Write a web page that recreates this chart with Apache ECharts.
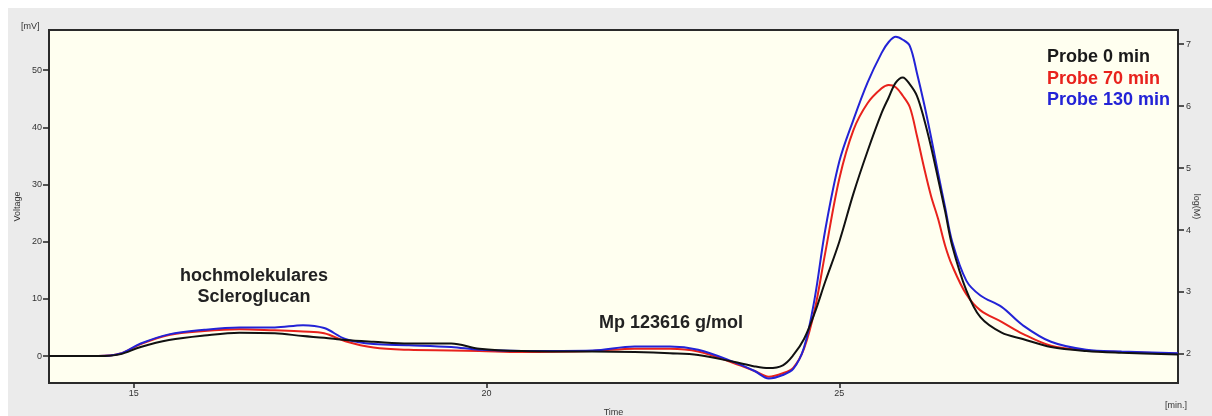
<!DOCTYPE html>
<html>
<head>
<meta charset="utf-8">
<script src="https://cdn.jsdelivr.net/npm/echarts@6/dist/echarts.min.js"></script>
<style>
  html, body { margin: 0; padding: 0; background: #fff; }
  #chart { width: 1212px; height: 416px; }
</style>
</head>
<body>
<div id="chart"></div>
<script>
// retention time [min]
const times = [13.8, 14.5, 14.8, 15.1, 15.5, 16.0, 16.5, 17.0, 17.4, 17.7, 18.0, 18.4, 18.9, 19.5, 19.9,
  20.5, 21.5, 22.1, 22.6, 23.0, 23.5, 23.8, 24.0, 24.2, 24.35, 24.5, 24.65, 24.8, 25.0, 25.2, 25.4,
  25.6, 25.7, 25.8, 25.9, 26.0, 26.1, 26.2, 26.3, 26.4, 26.5, 26.6, 26.8, 27.0, 27.3, 27.6, 28.0,
  28.5, 29.0, 29.8]

// voltage [mV] per sample
const probe0 = [0, 0, 0.3, 1.6, 2.8, 3.6, 4.1, 4.0, 3.5, 3.2, 2.8, 2.5, 2.2, 2.2, 1.3,
  0.9, 0.8, 0.7, 0.5, 0.2, -1.0, -1.8, -2.1, -1.6, 0.2, 3.0, 7.5, 13, 20, 28.4, 35.8,
  42.5, 45.2, 47.8, 48.7, 47.5, 45.5, 41.5, 36.6, 31, 25.3, 19.3, 11.5, 6.8, 4.1, 3.0, 1.6,
  0.9, 0.6, 0.3]
const probe70 = [0, 0, 0.4, 2.1, 3.7, 4.4, 4.7, 4.5, 4.3, 4.0, 2.6, 1.5, 1.1, 1.0, 0.9,
  0.7, 0.9, 1.3, 1.3, 0.8, -1.2, -2.6, -3.6, -3.0, -2.0, 1.3, 8, 18, 31, 39.5, 44.2,
  46.8, 47.4, 47.0, 45.5, 43.5, 38.5, 33, 28, 24, 19.3, 15.8, 10.8, 8.0, 6.0, 3.9, 1.8,
  1.0, 0.7, 0.4]
const probe130 = [0, 0, 0.4, 2.2, 3.8, 4.6, 5.0, 5.0, 5.4, 4.9, 3.0, 2.1, 1.9, 1.6, 1.1,
  0.9, 1.0, 1.7, 1.7, 1.1, -1.0, -2.6, -3.9, -3.3, -2.2, 1.5, 10, 22, 34, 41.3, 47.8,
  53, 54.9, 55.8, 55.3, 54.2, 49.5, 44.2, 38.3, 32, 26, 20, 13.2, 10.6, 8.6, 5.4, 2.5,
  1.1, 0.8, 0.5]

const timeTicks = [15, 20, 25]
const voltTicks = [0, 10, 20, 30, 40, 50]
const logTicks = [2, 3, 4, 5, 6, 7]

const pairs = (ys) => times.map((t, i) => [t, ys[i]])

const chart = echarts.init(document.getElementById('chart'))

const smallLabel = { fontFamily: 'Liberation Sans', fontSize: 9, color: '#333' }
const bigText = { fontFamily: 'Liberation Sans', fontSize: 18, fontWeight: 'bold' }
const tickStyle = { color: '#222', width: 1.5 }

chart.setOption({
  animation: false,
  backgroundColor: '#fff',
  grid: {
    left: 49, top: 30, right: 34, bottom: 33,
    outerBoundsMode: 'none',
    containLabel: false,
    show: true, backgroundColor: '#fffff0', borderColor: '#2a2a2a', borderWidth: 2
  },
  xAxis: {
    type: 'value',
    min: 13.8,
    max: 29.8,
    name: 'Time',
    nameLocation: 'middle',
    nameGap: 25,
    nameMoveOverlap: false,
    nameTextStyle: smallLabel,
    axisLine: { show: false, onZero: false },
    axisTick: { show: true, customValues: timeTicks, length: 5, lineStyle: tickStyle },
    axisLabel: { customValues: timeTicks, margin: 6, ...smallLabel },
    splitLine: { show: false }
  },
  yAxis: [{
    type: 'value',
    min: -4.7,
    max: 57,
    name: 'Voltage',
    nameLocation: 'middle',
    nameGap: 27,
    nameMoveOverlap: false,
    nameTextStyle: smallLabel,
    axisLine: { show: false, onZero: false },
    axisTick: { show: true, customValues: voltTicks, length: 6, lineStyle: tickStyle },
    axisLabel: { customValues: voltTicks, margin: 7, ...smallLabel },
    splitLine: { show: false }
  }, {
    type: 'value',
    position: 'right',
    min: 1.53,
    max: 7.23,
    name: 'log(M)',
    nameLocation: 'middle',
    nameRotate: -90,
    nameGap: 14,
    nameMoveOverlap: false,
    nameTextStyle: smallLabel,
    axisLine: { show: false, onZero: false },
    axisTick: { show: true, customValues: logTicks, length: 6, lineStyle: tickStyle },
    axisLabel: { customValues: logTicks, margin: 8, ...smallLabel },
    splitLine: { show: false }
  }],
  graphic: [
    { type: 'rect', z: -10, silent: true, shape: { x: 8, y: 8, width: 1204, height: 408 }, style: { fill: '#ebebeb' } },
    { type: 'text', left: 21, top: 22, style: { text: '[mV]', ...smallLabel, fill: '#333' } },
    { type: 'text', left: 1165, top: 401, style: { text: '[min.]', ...smallLabel, fill: '#333' } },
    { type: 'text', x: 254, y: 276, style: { text: 'hochmolekulares', ...bigText, fill: '#222', align: 'center', verticalAlign: 'middle' } },
    { type: 'text', x: 254, y: 297, style: { text: 'Scleroglucan', ...bigText, fill: '#222', align: 'center', verticalAlign: 'middle' } },
    { type: 'text', x: 671, y: 323, style: { text: 'Mp 123616 g/mol', ...bigText, fill: '#222', align: 'center', verticalAlign: 'middle' } },
    { type: 'text', x: 1047, y: 57, style: { text: 'Probe 0 min', ...bigText, fill: '#1a1a1a', verticalAlign: 'middle' } },
    { type: 'text', x: 1047, y: 79, style: { text: 'Probe 70 min', ...bigText, fill: '#e8221c', verticalAlign: 'middle' } },
    { type: 'text', x: 1047, y: 100, style: { text: 'Probe 130 min', ...bigText, fill: '#2323d6', verticalAlign: 'middle' } }
  ],
  series: [{
    name: 'Probe 70 min',
    type: 'line',
    data: pairs(probe70),
    smooth: 0.35,
    showSymbol: false,
    lineStyle: { color: '#e8221c', width: 2 }
  }, {
    name: 'Probe 130 min',
    type: 'line',
    data: pairs(probe130),
    smooth: 0.35,
    showSymbol: false,
    lineStyle: { color: '#2323d6', width: 2 }
  }, {
    name: 'Probe 0 min',
    type: 'line',
    data: pairs(probe0),
    smooth: 0.35,
    showSymbol: false,
    lineStyle: { color: '#111', width: 2 }
  }]
})
</script>
</body>
</html>
